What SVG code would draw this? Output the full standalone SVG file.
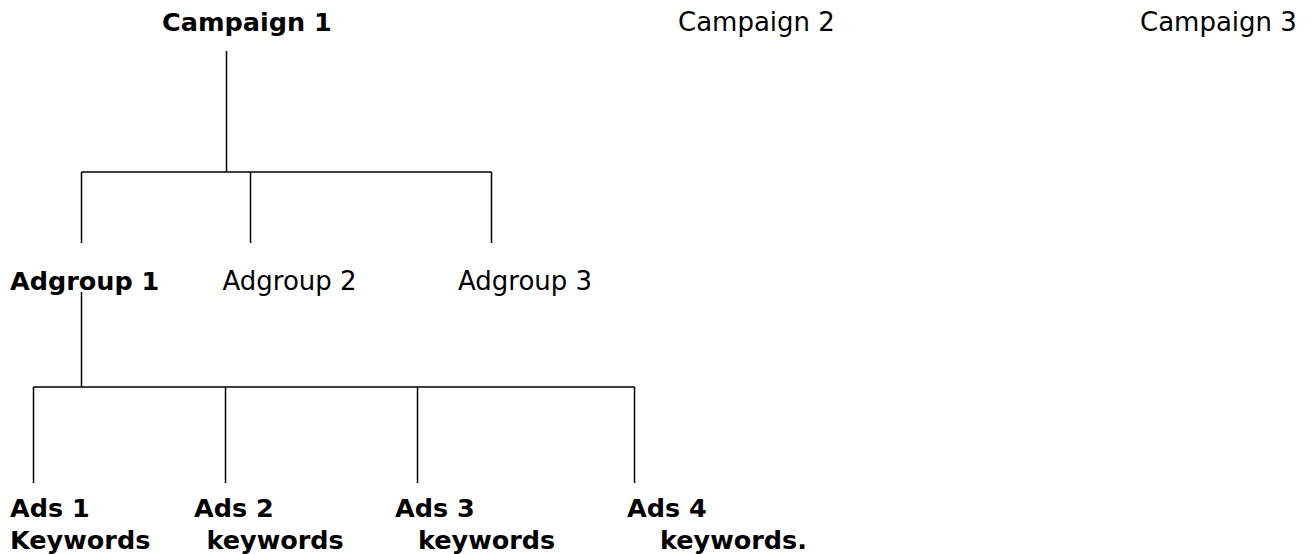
<svg xmlns="http://www.w3.org/2000/svg" width="1312" height="554" viewBox="0 0 1312 554">
<style>
text{font-family:"DejaVu Sans",Verdana,sans-serif;fill:#000}
.b{font-weight:bold;font-size:25.5px}
.r{font-size:26px}
.c line{stroke:#000;stroke-width:1.5}
</style>
<rect width="1312" height="554" fill="#fff"/>
<g class="c" id="connectors">
<line x1="226.5" y1="51" x2="226.5" y2="172"/>
<line x1="81.5" y1="172" x2="491.5" y2="172"/>
<line x1="81.5" y1="172" x2="81.5" y2="243"/>
<line x1="250.5" y1="172" x2="250.5" y2="243"/>
<line x1="491.5" y1="172" x2="491.5" y2="243"/>
<line x1="81.5" y1="292" x2="81.5" y2="387"/>
<line x1="33.5" y1="387" x2="634.5" y2="387"/>
<line x1="33.5" y1="387" x2="33.5" y2="483"/>
<line x1="225.5" y1="387" x2="225.5" y2="483"/>
<line x1="417.5" y1="387" x2="417.5" y2="483"/>
<line x1="634.5" y1="387" x2="634.5" y2="483"/>
</g>
<g id="campaign1"><text class="b" x="162" y="31">Campaign 1</text></g>
<g id="campaign2"><text class="r" x="678" y="31">Campaign 2</text></g>
<g id="campaign3"><text class="r" x="1140" y="31">Campaign 3</text></g>
<g id="adgroup1"><text class="b" x="10" y="289.5">Adgroup 1</text></g>
<g id="adgroup2"><text class="r" x="222.5" y="289.5">Adgroup 2</text></g>
<g id="adgroup3"><text class="r" x="458" y="289.5">Adgroup 3</text></g>
<g id="ads1"><text class="b" x="10" y="517">Ads 1</text><text class="b" x="10" y="549">Keywords</text></g>
<g id="ads2"><text class="b" x="194" y="517">Ads 2</text><text class="b" x="206.5" y="549">keywords</text></g>
<g id="ads3"><text class="b" x="395" y="517">Ads 3</text><text class="b" x="418" y="549">keywords</text></g>
<g id="ads4"><text class="b" x="627" y="517">Ads 4</text><text class="b" x="660" y="549">keywords.</text></g>
</svg>
